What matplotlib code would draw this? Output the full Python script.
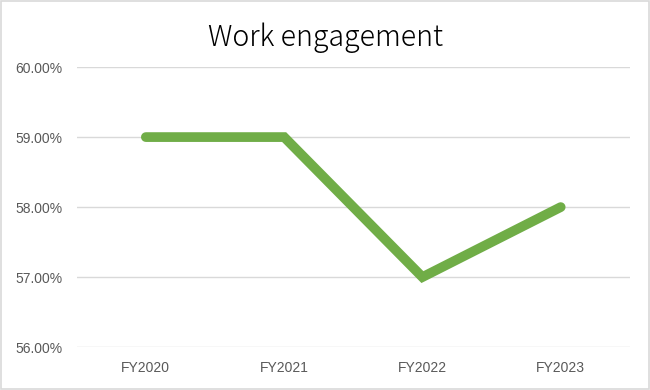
import matplotlib.pyplot as plt
from matplotlib.ticker import FuncFormatter

years = ['FY2020', 'FY2021', 'FY2022', 'FY2023']
engagement = [59.0, 59.0, 57.0, 58.0]
yticks = [56, 57, 58, 59, 60]

fig = plt.figure(figsize=(6.5, 3.9), dpi=100)
ax = fig.add_axes([0.118, 0.110, 0.851, 0.718])

x = range(len(years))
ax.plot(x, engagement, color='#70AD47', linewidth=7, solid_capstyle='round',
        solid_joinstyle='miter', zorder=3)

ax.set_xlim(-0.5, len(years) - 0.5)
ax.set_ylim(56, 60)
ax.set_yticks(yticks)
ax.yaxis.set_major_formatter(FuncFormatter(lambda v, p: f'{v:.2f}%'))
ax.set_xticks(list(x))
ax.set_xticklabels(years)
ax.grid(axis='y', color='#D9D9D9', linewidth=1)
ax.set_axisbelow(True)
for s in ax.spines.values():
    s.set_visible(False)
ax.tick_params(length=0, labelsize=10, labelcolor='#595959')
ax.tick_params(axis='x', pad=10)
ax.tick_params(axis='y', pad=10)
for lbl in ax.get_xticklabels() + ax.get_yticklabels():
    lbl.set_fontfamily('Liberation Sans')

fig.text(0.5, 0.903, 'Work engagement', ha='center', va='center', fontsize=20.5,
         color='#000000', fontfamily='Noto Sans CJK JP', fontweight='light')

fig.patches.append(plt.Rectangle((0.001, 0.002), 0.997, 0.995, transform=fig.transFigure,
                                 fill=False, edgecolor='#D9D9D9', linewidth=1.2))

fig.savefig('out.png', dpi=100)
